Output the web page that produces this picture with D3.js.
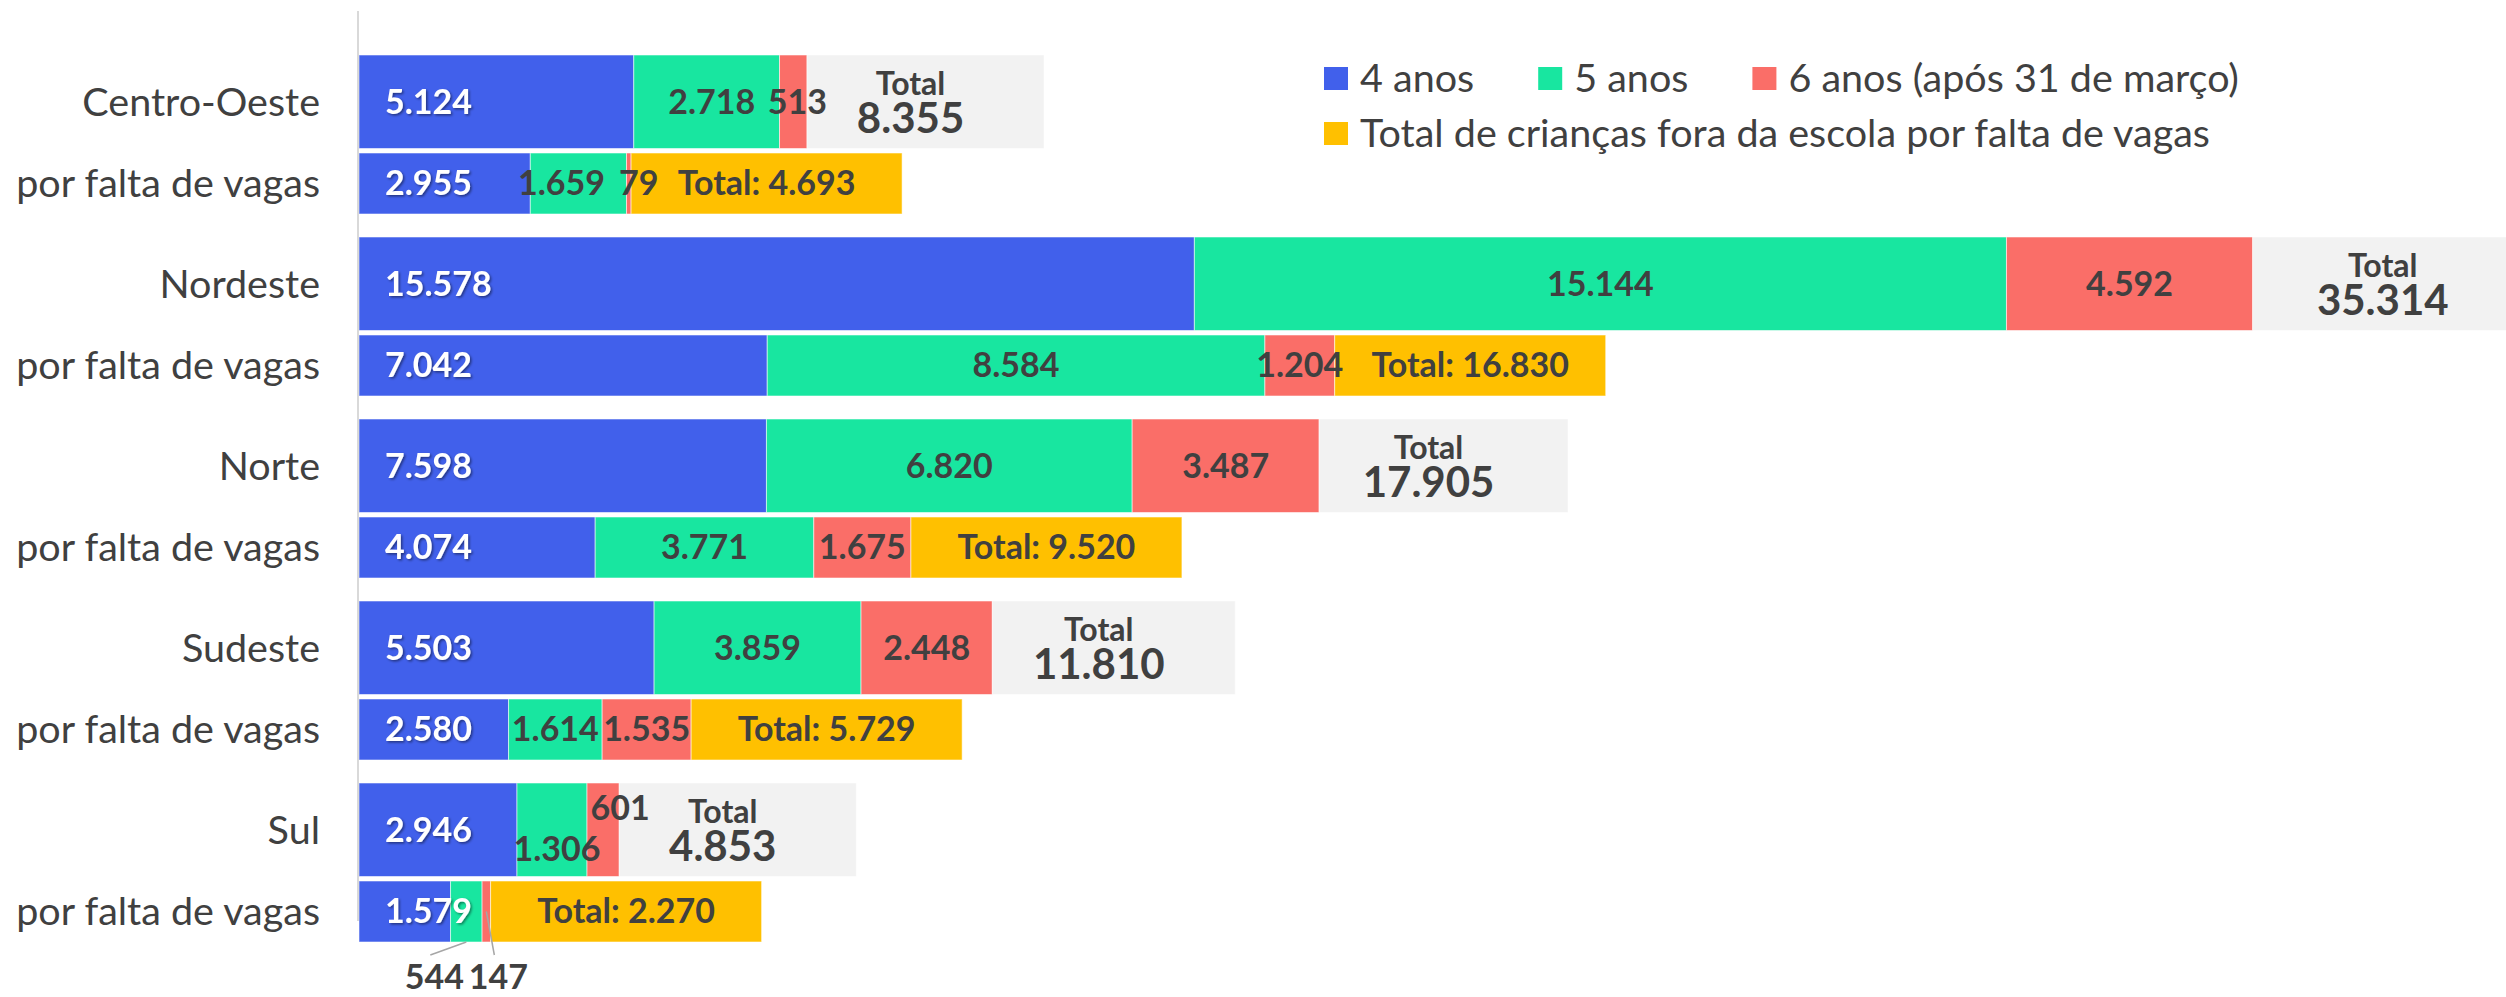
<!DOCTYPE html>
<html>
<head>
<meta charset="utf-8">
<script src="https://cdn.jsdelivr.net/npm/d3@7"></script>
<style>
  html, body { margin: 0; padding: 0; background: #ffffff; }
  svg { display: block; }
  text { font-family: Lato, "Open Sans", sans-serif; }
</style>
</head>
<body>
<svg id="chart" width="2506" height="997"></svg>
<script>
// ---------------- DATA ----------------
const regions = ["Centro-Oeste", "Nordeste", "Norte", "Sudeste", "Sul"];
const subLabel = "por falta de vagas";

// all children out of school, by age
const age4 = [5124, 15578, 7598, 5503, 2946];
const age5 = [2718, 15144, 6820, 3859, 1306];
const age6 = [513, 4592, 3487, 2448, 601];
const totals = [8355, 35314, 17905, 11810, 4853];

// children out of school for lack of places, by age
const vagas4 = [2955, 7042, 4074, 2580, 1579];
const vagas5 = [1659, 8584, 3771, 1614, 544];
const vagas6 = [79, 1204, 1675, 1535, 147];
const vagasTotals = [4693, 16830, 9520, 5729, 2270];

// grey / gold "label holder" segments
const totalPad = [4420, 5410, 4640, 4530, 4420];
const vagasPad = [4675, 4675, 4675, 4675, 4675];

const seriesNames = ["4 anos", "5 anos", "6 anos (após 31 de março)",
                     "Total de crianças fora da escola por falta de vagas"];
const mainAxisMax = 40000;
const vagasAxisMax = 37000;

// ---------------- STYLE ----------------
const colors = ["#4160EB", "#18E6A0", "#FA6E68", "#FFC000"];
const padGrey = "#F2F2F2";
const textDark = "#404040";

const plot = { left: 359, right: 2504, top: 11, bottom: 921 };

const svg = d3.select("#chart");

const defs = svg.append("defs");
const f = defs.append("filter").attr("id", "shadow")
  .attr("x", "-20%").attr("y", "-20%").attr("width", "140%").attr("height", "160%");
f.append("feDropShadow").attr("dx", 1.5).attr("dy", 1.5).attr("stdDeviation", 1)
  .attr("flood-color", "#000").attr("flood-opacity", 0.45);

const ptBR = d3.formatLocale({ decimal: ",", thousands: ".", grouping: [3], currency: ["R$", ""] });
const fmt = ptBR.format(",d");

// scales
const xMain = d3.scaleLinear().domain([0, mainAxisMax]).range([plot.left, plot.right]);
const xVagas = d3.scaleLinear().domain([0, vagasAxisMax]).range([plot.left, plot.right]);
const y = d3.scaleBand().domain(regions).range([plot.top, plot.bottom]);
const mainOff = 44, mainH = 93.5, vagasOff = 142, vagasH = 61;

// build rows
const rows = regions.map((r, i) => ({
  region: r, i,
  main: [age4[i], age5[i], age6[i], totalPad[i]],
  vagas: [vagas4[i], vagas5[i], vagas6[i], vagasPad[i]],
  total: totals[i], vagasTotal: vagasTotals[i]
}));

function stackSegs(vals, scale) {
  let acc = 0;
  return vals.map((v, k) => {
    const s = { k, v, x0: scale(acc), x1: scale(acc + v) };
    acc += v;
    return s;
  });
}

const gBars = svg.append("g");
const gLabels = svg.append("g");

// category axis line
svg.append("line")
  .attr("x1", plot.left - 1).attr("x2", plot.left - 1)
  .attr("y1", plot.top).attr("y2", plot.bottom)
  .attr("stroke", "#D9D9D9").attr("stroke-width", 2);

// nudges for crowded labels (dx, dy in px)
const nudges = {
  "0-v1": { dx: -17, dy: 0 },
  "0-v2": { dx: 10, dy: 0 },
  "0-m1": { dx: 5, dy: 0 },
  "0-m2": { dx: 4, dy: 0 },
  "4-m1": { dx: 5, dy: 19 },
  "4-m2": { dx: 17, dy: -22 }
};
// callout labels below the bar with leader lines
const callouts = {
  "4-v1": { dx: -32, toMid: false },
  "4-v2": { dx: 12, toMid: true }
};

const labelFont = 34;
const catFont = 39.5;

rows.forEach(row => {
  const yM = y(row.region) + mainOff;
  const yV = y(row.region) + vagasOff;
  const segM = stackSegs(row.main, xMain);
  const segV = stackSegs(row.vagas, xVagas);

  // main bars
  gBars.selectAll(null).data(segM).enter().append("rect")
    .attr("x", d => d.x0).attr("y", yM)
    .attr("width", d => Math.max(0, d.x1 - d.x0)).attr("height", mainH)
    .attr("fill", d => d.k === 3 ? padGrey : colors[d.k])
    .attr("stroke", "rgba(255,255,255,0.55)").attr("stroke-width", 1);

  // vagas bars
  gBars.selectAll(null).data(segV).enter().append("rect")
    .attr("x", d => d.x0).attr("y", yV)
    .attr("width", d => Math.max(0, d.x1 - d.x0)).attr("height", vagasH)
    .attr("fill", d => colors[d.k])
    .attr("stroke", "rgba(255,255,255,0.55)").attr("stroke-width", 1);

  // category labels
  gLabels.append("text")
    .attr("x", 320).attr("y", yM + mainH / 2).attr("dy", "0.35em")
    .attr("text-anchor", "end").attr("font-size", catFont).attr("fill", textDark)
    .text(row.region);
  gLabels.append("text")
    .attr("x", 320).attr("y", yV + vagasH / 2).attr("dy", "0.35em")
    .attr("text-anchor", "end").attr("font-size", catFont).attr("fill", textDark)
    .text(subLabel);

  // value labels
  const drawSegLabels = (segs, yTop, h, pre) => {
    segs.slice(0, 3).forEach(s => {
      const key = row.i + "-" + pre + s.k;
      const cy = yTop + h / 2;
      if (s.k === 0) {
        gLabels.append("text")
          .attr("x", s.x0 + 26).attr("y", cy).attr("dy", "0.35em")
          .attr("font-size", labelFont).attr("font-weight", 700)
          .attr("fill", "#ffffff").attr("filter", "url(#shadow)")
          .text(fmt(s.v));
        return;
      }
      const cx = (s.x0 + s.x1) / 2;
      if (callouts[key]) {
        const c = callouts[key];
        const lx = cx + c.dx, ly = yTop + h + 35;
        gLabels.append("line")
          .attr("x1", lx - 4).attr("y1", ly - 22)
          .attr("x2", cx).attr("y2", c.toMid ? cy : yTop + h)
          .attr("stroke", "#A6A6A6").attr("stroke-width", 1.5);
        gLabels.append("text")
          .attr("x", lx).attr("y", ly).attr("dy", "0.35em")
          .attr("text-anchor", "middle")
          .attr("font-size", labelFont).attr("font-weight", 700).attr("fill", textDark)
          .text(fmt(s.v));
        return;
      }
      const n = nudges[key] || { dx: 0, dy: 0 };
      gLabels.append("text")
        .attr("x", cx + n.dx).attr("y", cy + n.dy).attr("dy", "0.35em")
        .attr("text-anchor", "middle")
        .attr("font-size", labelFont).attr("font-weight", 700).attr("fill", textDark)
        .text(fmt(s.v));
    });
  };
  drawSegLabels(segM, yM, mainH, "m");
  drawSegLabels(segV, yV, vagasH, "v");

  // grey total label
  const g = segM[3];
  const gx = (g.x0 + g.x1) / 2 - 15;
  const gcy = yM + mainH / 2;
  gLabels.append("text")
    .attr("x", gx).attr("y", gcy - 7)
    .attr("text-anchor", "middle").attr("font-size", 32).attr("font-weight", 700)
    .attr("fill", textDark).text("Total");
  gLabels.append("text")
    .attr("x", gx).attr("y", gcy + 31)
    .attr("text-anchor", "middle").attr("font-size", 42).attr("font-weight", 700)
    .attr("fill", textDark).text(fmt(row.total));

  // gold total label
  const v = segV[3];
  gLabels.append("text")
    .attr("x", (v.x0 + v.x1) / 2).attr("y", yV + vagasH / 2).attr("dy", "0.35em")
    .attr("text-anchor", "middle").attr("font-size", labelFont).attr("font-weight", 700)
    .attr("fill", textDark).text("Total: " + fmt(row.vagasTotal));
});

// ---------------- LEGEND ----------------
const legend = svg.append("g");
const legRows = [[0, 1, 2], [3]];
const legX0 = 1324, legY = [78.5, 133.5];
legRows.forEach((items, r) => {
  let x = legX0;
  items.forEach(k => {
    legend.append("rect")
      .attr("x", x).attr("y", legY[r] - 11.5).attr("width", 24).attr("height", 23)
      .attr("fill", colors[k]);
    const t = legend.append("text")
      .attr("x", x + 36).attr("y", legY[r]).attr("dy", "0.35em")
      .attr("font-size", catFont).attr("fill", textDark).text(seriesNames[k]);
    x += 36 + t.node().getComputedTextLength() + 64;
  });
});
</script>
</body>
</html>
